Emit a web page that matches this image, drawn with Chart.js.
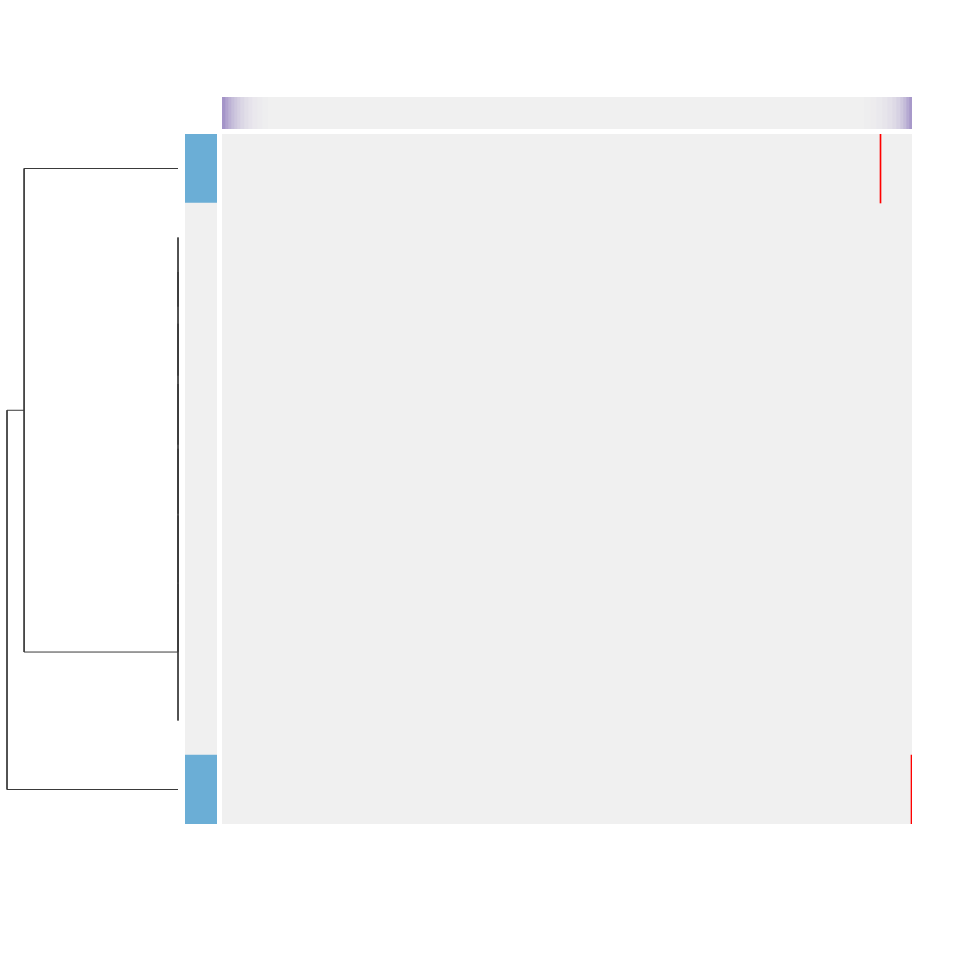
<!DOCTYPE html>
<html>
<head>
<meta charset="utf-8">
<script src="https://cdn.jsdelivr.net/npm/chart.js@4/dist/chart.umd.min.js"></script>
<style>
  html, body { margin: 0; padding: 0; background: #ffffff; }
  #wrap { position: relative; width: 960px; height: 960px; background: #ffffff; }
  canvas { position: absolute; }
</style>
</head>
<body>
<div id="wrap">
  <canvas id="dendro" width="190" height="690" style="left:0px;top:134px;"></canvas>
  <canvas id="rowAnno" width="32" height="690" style="left:185px;top:134px;"></canvas>
  <canvas id="colAnno" width="690" height="32" style="left:222px;top:97px;"></canvas>
  <canvas id="heat" width="690" height="690" style="left:222px;top:134px;"></canvas>
</div>
<script>
// ---------------- DATA ----------------
const rowLabels = ['R1', 'R2', 'R3', 'R4', 'R5', 'R6', 'R7', 'R8', 'R9', 'R10'];
const rowGroup  = ['A', null, null, null, null, null, null, null, null, 'A'];
const nCols = 690;

// sparse non-zero heatmap cells (all other cells are 0)
const cellRow   = [0, 9];
const cellCol   = [658, 689];
const cellValue = [1.0, 1.0];

// column annotation (non-zero segments; the rest is 0)
const annoStart = [0, 3, 6, 9, 12, 15, 18, 22, 26, 30, 35, 40,
                   642, 648, 654, 660, 665, 670, 674, 678, 681, 684, 687];
const annoEnd   = [3, 6, 9, 12, 15, 18, 22, 26, 30, 35, 40, 46,
                   648, 654, 660, 665, 670, 674, 678, 681, 684, 687, 690];
const annoValue = [0.95, 0.78, 0.64, 0.52, 0.42, 0.34, 0.26, 0.19, 0.13, 0.08, 0.05, 0.02,
                   0.02, 0.04, 0.07, 0.11, 0.16, 0.23, 0.31, 0.42, 0.55, 0.72, 0.9];

// hierarchical clustering merges: [left id, right id, height]; leaves are 0..9
const mergeLeft   = [1, 10, 11, 12, 13, 14, 15, 0, 17];
const mergeRight  = [2, 3, 4, 5, 6, 7, 8, 16, 9];
const mergeHeight = [0, 0, 0, 0, 0, 0, 0, 0.9, 1.0];

// ---------------- HELPERS ----------------
const grey = [240, 240, 240];
function mix(c0, c1, t) {
  return 'rgb(' + c0.map((v, i) => Math.round(v + (c1[i] - v) * t)).join(',') + ')';
}
const heatHigh = [255, 0, 0];
const annoHigh = [160, 143, 198];
const groupColor = { A: '#6baed6' };

const baseOpts = (extra) => Object.assign({
  responsive: false,
  animation: false,
  devicePixelRatio: 1,
  layout: { padding: 0 },
  plugins: { legend: { display: false }, tooltip: { enabled: false }, title: { display: false } },
  events: []
}, extra);

// ---------------- DENDROGRAM ----------------
(function () {
  const nodeY = rowLabels.map((_, i) => i + 0.5);
  const nodeH = rowLabels.map(() => 0);
  const datasets = [];
  for (let k = 0; k < mergeLeft.length; k++) {
    const a = mergeLeft[k], b = mergeRight[k], h = mergeHeight[k];
    datasets.push({
      data: [
        { x: nodeH[a], y: nodeY[a] },
        { x: h, y: nodeY[a] },
        { x: h, y: nodeY[b] },
        { x: nodeH[b], y: nodeY[b] }
      ],
      showLine: true, borderColor: '#3a3a3a', borderWidth: 1,
      pointRadius: 0, tension: 0, clip: false, fill: false
    });
    nodeY.push((nodeY[a] + nodeY[b]) / 2);
    nodeH.push(h);
  }
  new Chart(document.getElementById('dendro'), {
    type: 'scatter',
    data: { datasets },
    options: baseOpts({
      layout: { padding: { left: 7, right: 12, top: 0, bottom: 0 } },
      scales: {
        x: { type: 'linear', min: 0, max: 1, reverse: true, display: false },
        y: { type: 'linear', min: 0, max: rowLabels.length, reverse: true, display: false }
      }
    })
  });
})();

// ---------------- ROW ANNOTATION ----------------
new Chart(document.getElementById('rowAnno'), {
  type: 'bar',
  data: {
    labels: rowLabels,
    datasets: [{
      data: rowLabels.map(() => 1),
      backgroundColor: rowGroup.map(g => g ? groupColor[g] : '#f0f0f0'),
      borderWidth: 0, barPercentage: 1, categoryPercentage: 1
    }]
  },
  options: baseOpts({
    indexAxis: 'y',
    scales: {
      x: { min: 0, max: 1, display: false },
      y: { display: false }
    }
  })
});

// ---------------- COLUMN ANNOTATION ----------------
(function () {
  const datasets = annoStart.map((s, i) => ({
    data: [[s, annoEnd[i]]],
    backgroundColor: mix(grey, annoHigh, annoValue[i]),
    borderWidth: 0, barPercentage: 1, categoryPercentage: 1,
    grouped: false, order: 0
  }));
  datasets.push({
    data: [[0, nCols]],
    backgroundColor: mix(grey, annoHigh, 0),
    borderWidth: 0, barPercentage: 1, categoryPercentage: 1,
    grouped: false, order: 1
  });
  new Chart(document.getElementById('colAnno'), {
    type: 'bar',
    data: { labels: ['anno'], datasets },
    options: baseOpts({
      indexAxis: 'y',
      scales: {
        x: { type: 'linear', min: 0, max: nCols, display: false },
        y: { display: false }
      }
    })
  });
})();

// ---------------- HEATMAP ----------------
(function () {
  const datasets = cellRow.map((r, i) => ({
    data: rowLabels.map((_, j) => j === r ? [cellCol[i], cellCol[i] + 1] : null),
    backgroundColor: mix(grey, heatHigh, cellValue[i]),
    borderWidth: 0, barPercentage: 1, categoryPercentage: 1,
    grouped: false, order: 0
  }));
  datasets.push({
    data: rowLabels.map(() => [0, nCols]),
    backgroundColor: mix(grey, heatHigh, 0),
    borderWidth: 0, barPercentage: 1, categoryPercentage: 1,
    grouped: false, order: 1
  });
  new Chart(document.getElementById('heat'), {
    type: 'bar',
    data: { labels: rowLabels, datasets },
    options: baseOpts({
      indexAxis: 'y',
      scales: {
        x: { type: 'linear', min: 0, max: nCols, display: false },
        y: { display: false }
      }
    })
  });
})();
</script>
</body>
</html>
